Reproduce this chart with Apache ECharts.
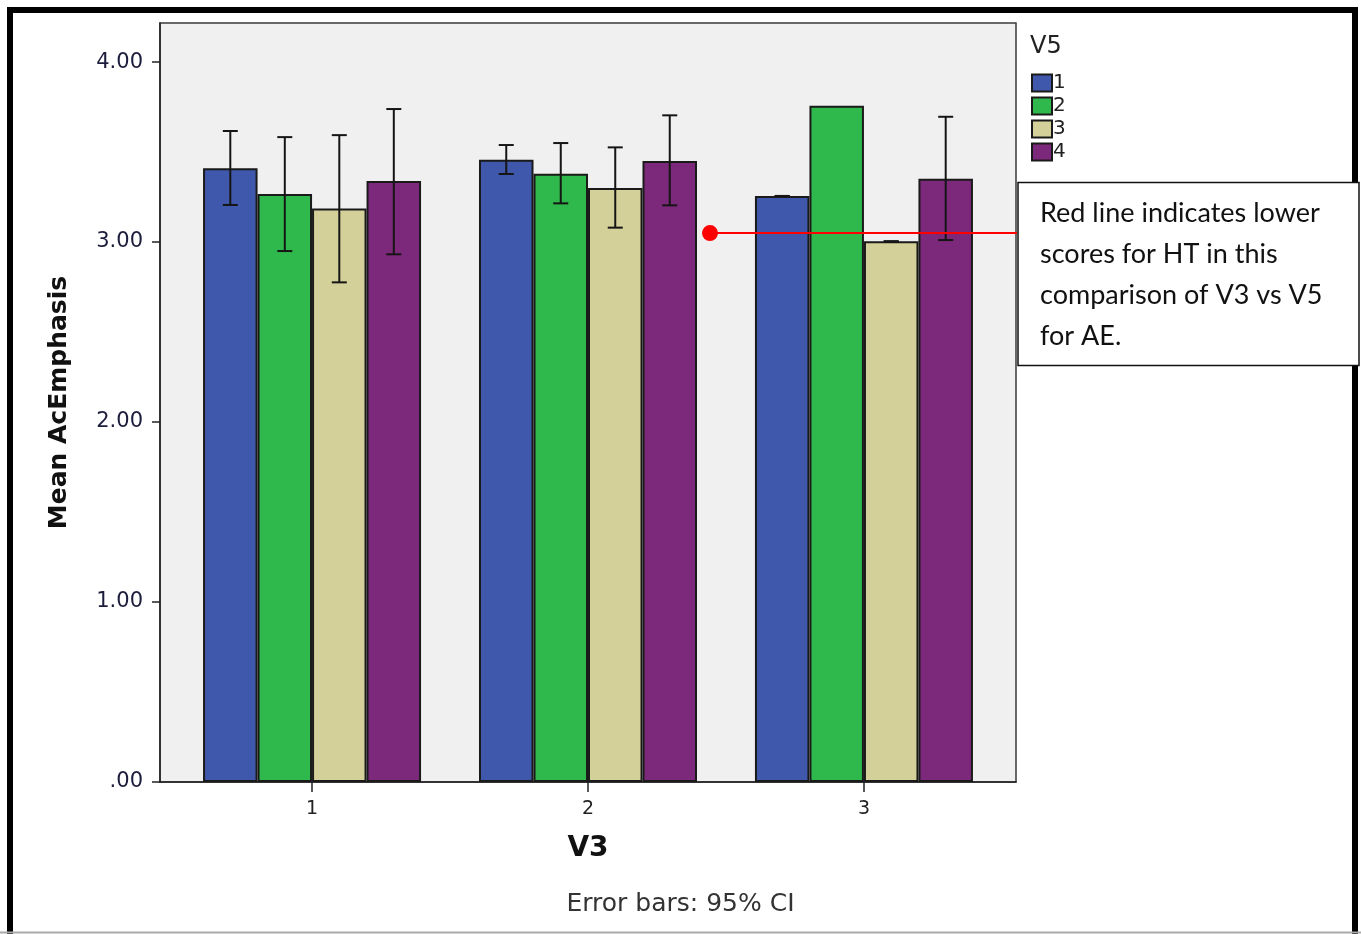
<!DOCTYPE html>
<html>
<head>
<meta charset="utf-8">
<script src="https://cdn.jsdelivr.net/npm/echarts@6/dist/echarts.min.js"></script>
<style>
  html, body { margin: 0; padding: 0; background: #ffffff; }
  #chart { width: 1361px; height: 934px; }
</style>
</head>
<body>
<div id="chart"></div>
<script>
// V3 groups on the x axis, V5 levels as clustered bars
const v3Groups = [1, 2, 3];
const v5Levels = ['1', '2', '3', '4'];
const v5Colors = ['#3f58ab', '#2fb84b', '#d4d09a', '#7c287b'];

// Mean AcEmphasis per V5 level (index = V3 group)
const meanV5_1 = [3.41, 3.457, 3.256];
const meanV5_2 = [3.267, 3.38, 3.757];
const meanV5_3 = [3.187, 3.30, 3.004];
const meanV5_4 = [3.339, 3.45, 3.352];

// 95% CI bounds (null = no interval)
const lowV5_1 = [3.206, 3.378, 3.256];
const highV5_1 = [3.617, 3.539, 3.256];
const lowV5_2 = [2.95, 3.215, null];
const highV5_2 = [3.583, 3.55, null];
const lowV5_3 = [2.776, 3.08, 3.004];
const highV5_3 = [3.594, 3.526, 3.004];
const lowV5_4 = [2.932, 3.204, 3.011];
const highV5_4 = [3.739, 3.704, 3.696];

// y ticks
const yTicks = [0, 1, 2, 3, 4];

// highlighted reference level and where its marker starts
const noteLevel = 3.05;
const noteStartX = 2.442;
const noteEndX = 3.558;
const noteLines = [
  'Red line indicates lower',
  'scores for HT in this',
  'comparison of V3 vs V5',
  'for AE.'
];

const means = [meanV5_1, meanV5_2, meanV5_3, meanV5_4];
const lows = [lowV5_1, lowV5_2, lowV5_3, lowV5_4];
const highs = [highV5_1, highV5_2, highV5_3, highV5_4];

const BAR_SHARE = 0.1975; // share of one group step taken by a single bar

const barSeries = v5Levels.map((name, k) => ({
  name: name,
  type: 'bar',
  barWidth: (BAR_SHARE * 100) + '%',
  barGap: '0%',
  itemStyle: { color: v5Colors[k], borderColor: '#1a1a1a', borderWidth: 2 },
  data: v3Groups.map((g, i) => [g, means[k][i]]),
  z: 2
}));

const errorSeries = v5Levels.map((name, k) => ({
  type: 'custom',
  silent: true,
  z: 5,
  data: v3Groups.map((g, i) => lows[k][i] == null ? null : [g, lows[k][i], highs[k][i]])
    .filter(d => d !== null),
  renderItem: function (params, api) {
    const step = api.size([1, 0])[0];
    const barW = step * BAR_SHARE;
    const cx = api.coord([api.value(0), 0])[0] + (k - 1.5) * barW;
    const yLo = api.coord([api.value(0), api.value(1)])[1];
    const yHi = api.coord([api.value(0), api.value(2)])[1];
    const cap = 7.5;
    const style = { stroke: '#151515', lineWidth: 2 };
    return {
      type: 'group',
      children: [
        { type: 'line', shape: { x1: cx, y1: yLo, x2: cx, y2: yHi }, style: style },
        { type: 'line', shape: { x1: cx - cap, y1: yHi, x2: cx + cap, y2: yHi }, style: style },
        { type: 'line', shape: { x1: cx - cap, y1: yLo, x2: cx + cap, y2: yLo }, style: style }
      ]
    };
  }
}));

const noteSeries = {
  type: 'line',
  silent: true,
  clip: false,
  z: 6,
  lineStyle: { color: '#ff0000', width: 2 },
  itemStyle: { color: '#ff0000' },
  data: [
    { value: [noteStartX, noteLevel], symbol: 'circle', symbolSize: 16 },
    { value: [noteEndX, noteLevel], symbol: 'none' }
  ]
};

const chart = echarts.init(document.getElementById('chart'), null, { renderer: 'canvas' });

chart.setOption({
  animation: false,
  backgroundColor: '#ffffff',
  title: [
    {
      text: 'Error bars: 95% CI',
      left: 'center',
      top: 887,
      textStyle: { fontFamily: 'DejaVu Sans', fontSize: 25, fontWeight: 'normal', color: '#333' }
    },
    {
      text: 'V5',
      left: 1025,
      top: 30,
      textStyle: { fontFamily: 'DejaVu Sans', fontSize: 24, fontWeight: 'normal', color: '#222' }
    }
  ],
  legend: {
    data: v5Levels,
    orient: 'vertical',
    left: 1026,
    top: 68,
    itemWidth: 20,
    itemHeight: 17,
    itemGap: 3,
    icon: 'rect',
    selectedMode: false,
    textStyle: { fontFamily: 'DejaVu Sans', fontSize: 20, color: '#222', padding: [0, 0, 0, -4] }
  },
  grid: {
    left: 160,
    top: 23,
    right: 345,
    bottom: 152,
    show: true,
    backgroundColor: '#f0f0f0',
    borderColor: '#3a3a3a',
    borderWidth: 1.5
  },
  xAxis: {
    type: 'value',
    min: 0.449,
    max: 3.551,
    name: 'V3',
    nameLocation: 'middle',
    nameGap: 53,
    nameTextStyle: { fontFamily: 'DejaVu Sans', fontSize: 28, fontWeight: 'bold', color: '#111' },
    splitLine: { show: false },
    axisLine: { show: true, onZero: false, lineStyle: { color: '#222', width: 1.5 } },
    axisTick: { show: true, length: 10, customValues: v3Groups, lineStyle: { color: '#222', width: 1.5 } },
    axisLabel: {
      customValues: v3Groups,
      margin: 18,
      fontFamily: 'DejaVu Sans',
      fontSize: 19,
      color: '#222',
      formatter: v => String(v)
    }
  },
  yAxis: {
    type: 'value',
    min: 0,
    max: 4.217,
    name: 'Mean AcEmphasis',
    nameLocation: 'middle',
    nameRotate: 90,
    nameGap: 88,
    nameTextStyle: { fontFamily: 'DejaVu Sans', fontSize: 25, fontWeight: 'bold', color: '#111' },
    splitLine: { show: false },
    axisLine: { show: true, lineStyle: { color: '#222', width: 1.5 } },
    axisTick: { show: true, length: 8, customValues: yTicks, lineStyle: { color: '#222', width: 1.5 } },
    axisLabel: {
      customValues: yTicks,
      margin: 17,
      fontFamily: 'DejaVu Sans',
      fontSize: 21,
      color: '#1c1c3c',
      formatter: v => (v === 0 ? '.00' : v.toFixed(2))
    }
  },
  graphic: [
    // page frame
    { type: 'rect', z: 100, silent: true, shape: { x: 10, y: 10, width: 1345, height: 940 },
      style: { fill: 'none', stroke: '#000', lineWidth: 6 } },
    { type: 'line', z: 101, silent: true, shape: { x1: 0, y1: 932.5, x2: 1361, y2: 932.5 },
      style: { stroke: '#aaaaaa', lineWidth: 2 } },
    // note box
    { type: 'rect', z: 102, silent: true, shape: { x: 1018, y: 182.5, width: 341, height: 183 },
      style: { fill: '#ffffff', stroke: '#111', lineWidth: 1.5 } },
    { type: 'text', z: 103, silent: true, left: 1040, top: 193,
      style: { text: noteLines.join('\n'), fill: '#111', font: '27px Lato', lineHeight: 41 } }
  ],
  series: [...barSeries, ...errorSeries, noteSeries]
});
</script>
</body>
</html>
